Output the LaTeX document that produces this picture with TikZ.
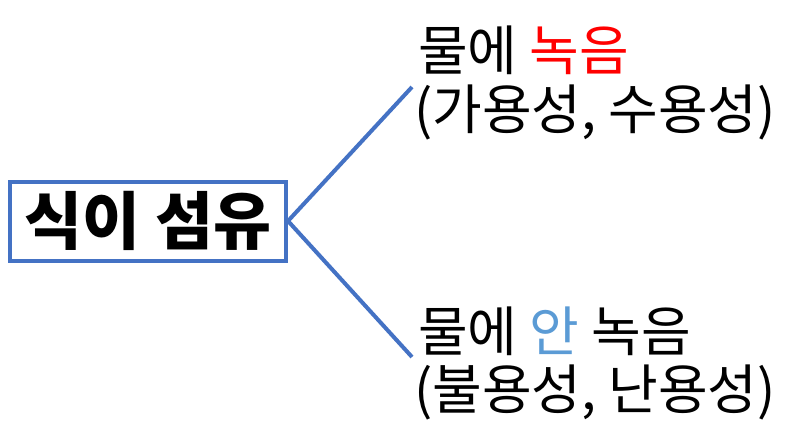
\documentclass[tikz,border=0pt]{standalone}
\usepackage{fontspec}
\setmainfont{Noto Sans CJK KR}
\definecolor{bl}{HTML}{4472C4}
\definecolor{lb}{HTML}{5B9BD5}
\begin{document}
\begin{tikzpicture}[x=1pt,y=-1pt,
  lbl/.style={anchor=west,inner sep=0pt,font=\fontsize{54}{58}\selectfont},
  conn/.style={draw=bl,line width=4pt}]
\useasboundingbox (0,0) rectangle (800,442);
\node[draw=bl,line width=4pt,minimum width=276pt,minimum height=79pt,inner sep=0pt,
  font=\fontsize{63}{66}\selectfont\bfseries] (root) at (148,221) {식이 섬유};
\coordinate (t) at (412,87);
\coordinate (b) at (412,357);
\draw[conn] (root.east) -- (t);
\draw[conn] (root.east) -- (b);
\node[lbl] (t1) at (418,50) {물에 \textcolor{red}{녹음}};
\node[lbl] (t2) at (414,112) {(가용성, 수용성)};
\node[lbl] (b1) at (418,331) {물에 \textcolor{lb}{안} 녹음};
\node[lbl] (b2) at (414,392) {(불용성, 난용성)};
\end{tikzpicture}
\end{document}
